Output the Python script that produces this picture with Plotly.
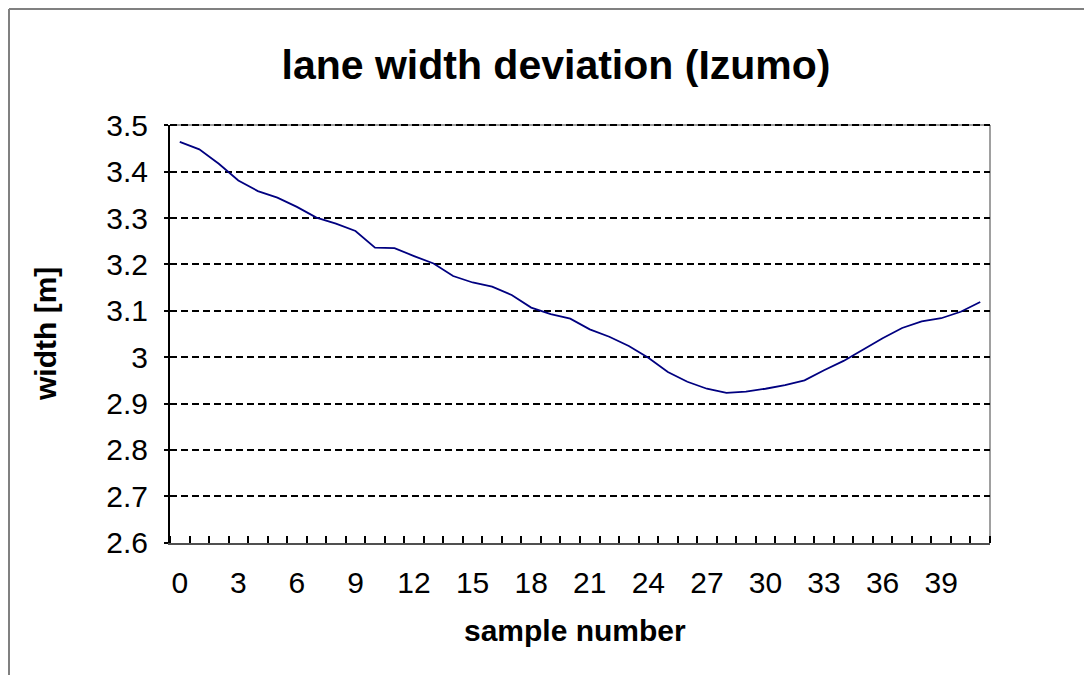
import plotly.graph_objects as go

sample_number = list(range(42))
width_m = [3.464, 3.448, 3.417, 3.381, 3.358, 3.344, 3.324, 3.301, 3.288, 3.272,
           3.236, 3.235, 3.218, 3.202, 3.175, 3.161, 3.152, 3.134, 3.107, 3.093,
           3.083, 3.060, 3.044, 3.024, 2.999, 2.968, 2.947, 2.932, 2.923, 2.926,
           2.932, 2.940, 2.950, 2.972, 2.992, 3.017, 3.041, 3.063, 3.077, 3.084,
           3.098, 3.119]
x_tick_vals = list(range(0, 42, 3))
y_tick_vals = [2.6, 2.7, 2.8, 2.9, 3.0, 3.1, 3.2, 3.3, 3.4, 3.5]
y_tick_text = ["2.6", "2.7", "2.8", "2.9", "3", "3.1", "3.2", "3.3", "3.4", "3.5"]

FONT = "Arial, Liberation Sans, sans-serif"
W, H = 1084, 667  # page body has an 8px margin

fig = go.Figure()
fig.add_trace(go.Scatter(x=sample_number, y=width_m, mode="lines",
                         line=dict(color="#000080", width=1.8), showlegend=False))

fig.update_layout(
    width=W, height=H,
    margin=dict(l=162, r=W - 162 - 820, t=117, b=H - 117 - 418),
    paper_bgcolor="white", plot_bgcolor="white",
    font=dict(family=FONT, color="black"),
    title=dict(text="<b>lane width deviation (Izumo)</b>", x=548 / W, xref="container",
               y=1 - 57 / H, yref="container", xanchor="center", yanchor="middle",
               font=dict(size=41, family=FONT, color="black")),
)
fig.update_xaxes(
    range=[-0.5, 41.5], tickmode="array", tickvals=x_tick_vals,
    ticks="", ticklabelstandoff=12, tickfont=dict(size=30),
    showgrid=False, zeroline=False,
    showline=True, linecolor="#505050", linewidth=2,
    minor=dict(tickmode="linear", tick0=-0.5, dtick=1, ticks="inside",
               ticklen=7, tickwidth=1.5, tickcolor="black", showgrid=False),
)
fig.update_yaxes(
    range=[2.5995, 3.5005], tickmode="array", tickvals=y_tick_vals, ticktext=y_tick_text,
    ticks="outside", ticklen=4, tickwidth=2, tickcolor="black",
    ticklabelstandoff=10, tickfont=dict(size=30),
    showgrid=True, gridcolor="black", gridwidth=2, griddash="7px,4px",
    zeroline=False, showline=True, linecolor="black", linewidth=2,
)

# positions in screen pixels -> paper fractions
px_x = lambda p: (p - 170) / 820
px_y = lambda p: (543 - p) / 418

# plot-area border (top and right) and outer chart frame (top and left)
fig.add_shape(type="line", xref="paper", yref="paper", x0=1, x1=1, y0=0, y1=1,
              line=dict(color="#a0a0a0", width=2), layer="between")
fig.add_shape(type="line", xref="paper", yref="paper", x0=0, x1=1, y0=1, y1=1,
              line=dict(color="#a0a0a0", width=2), layer="between")
fig.add_shape(type="line", xref="paper", yref="paper", x0=0, x1=1, y0=1, y1=1,
              line=dict(color="black", width=2, dash="7px,4px"), layer="between")
fig.add_shape(type="line", xref="paper", yref="paper", x0=px_x(9), x1=px_x(1100),
              y0=px_y(9), y1=px_y(9), line=dict(color="#808080", width=2))
fig.add_shape(type="line", xref="paper", yref="paper", x0=px_x(9), x1=px_x(9),
              y0=px_y(9), y1=px_y(680), line=dict(color="#808080", width=2))

fig.add_annotation(text="<b>sample number</b>", xref="paper", yref="paper",
                   x=px_x(575), y=px_y(630), xanchor="center", yanchor="middle",
                   showarrow=False, font=dict(size=30, family=FONT, color="black"))
fig.add_annotation(text="<b>width [m]</b>", xref="paper", yref="paper",
                   x=px_x(45), y=px_y(334), xanchor="center", yanchor="middle",
                   textangle=-90, showarrow=False, font=dict(size=30, family=FONT, color="black"))

fig.write_html("out.html")
